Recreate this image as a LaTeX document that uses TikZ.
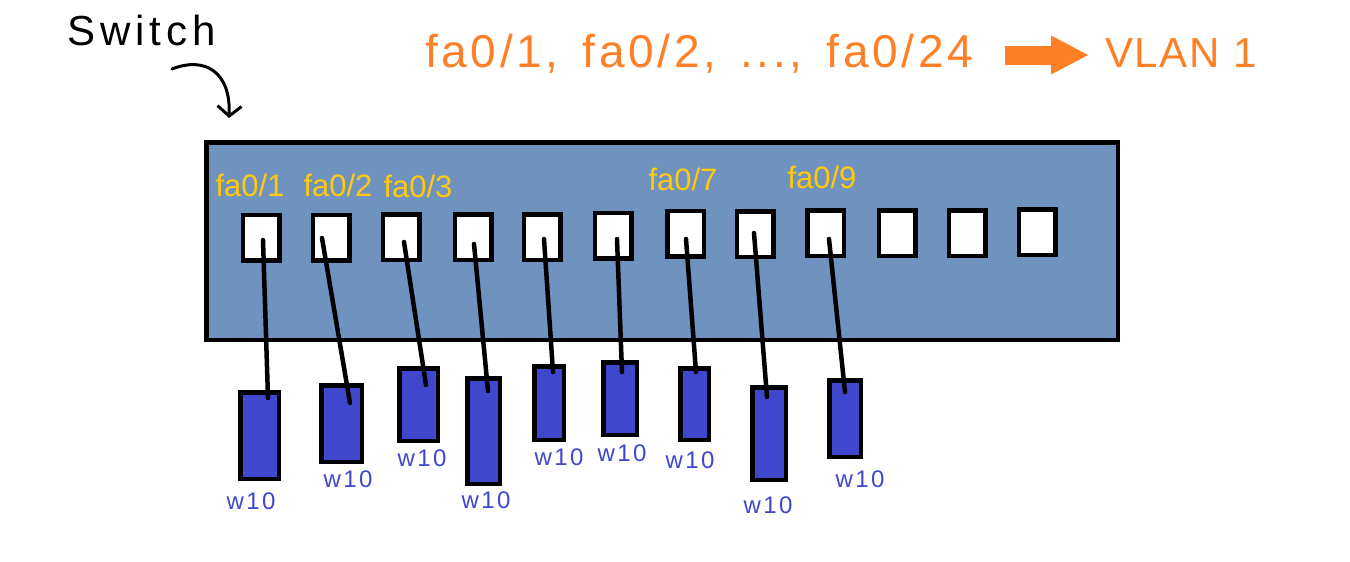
\documentclass[tikz,border=0pt]{standalone}
\usepackage{fontspec}
\setmainfont{Liberation Sans}
\usetikzlibrary{arrows.meta,calc}
\definecolor{swblue}{RGB}{112,146,190}
\definecolor{devblue}{RGB}{63,72,204}
\definecolor{vorange}{RGB}{255,127,39}
\definecolor{pgold}{RGB}{255,201,14}
\begin{document}
\begin{tikzpicture}[x=1pt,y=-1pt,
  switchbox/.style={draw=black,line width=4.5pt,fill=swblue,inner sep=0pt,minimum width=911.5pt,minimum height=197.5pt},
  port/.style={draw=black,line width=4.5pt,fill=white,inner sep=0pt,minimum width=36.5pt,minimum height=45.5pt},
  device/.style={draw=black,line width=4.5pt,fill=devblue,inner sep=0pt},
  cable/.style={line width=4.5pt,line cap=round},
  portlabel/.style={text=pgold,font=\fontsize{31}{36}\selectfont,anchor=base,inner sep=0pt},
  devlabel/.style={text=devblue,font=\fontsize{24}{28}\selectfont\addfontfeature{LetterSpace=10},inner sep=0pt},
  toptext/.style={text=vorange,anchor=base west,inner sep=0pt},
  bigarrow/.style={vorange,line width=19pt,-{Triangle[length=38pt,width=36pt]}},
  pointer/.style={line width=3pt,line cap=round,-{Straight Barb[length=10pt,width=24pt]}}
]
\useasboundingbox[fill=white] (0,0) rectangle (1350,562);

% title and legend
\node[anchor=base west,inner sep=0pt,font=\fontsize{42}{48}\selectfont\addfontfeature{LetterSpace=12}] (title) at (67,45) {Switch};
\coordinate (ptrA) at (172,69);
\coordinate (ptrB) at (229,118);
\draw[pointer] (ptrA) .. controls (205,56) and (231,72) .. (ptrB);

\node[toptext,font=\fontsize{46}{52}\selectfont\addfontfeature{LetterSpace=8}] (ports) at (425,67) {fa0/1,\, fa0/2,\, ...,\, fa0/24};
\node[toptext,font=\fontsize{42}{48}\selectfont\addfontfeature{LetterSpace=4}] (vlan) at (1105,67) {VLAN 1};
\coordinate (arrA) at (1005,55);
\coordinate (arrB) at (1089,55);
\draw[bigarrow] (arrA) -- (arrB);

% switch
\node[switchbox] (sw) at (662,241) {};

% ports
\node[port] (p1) at (261,237.5) {};
\node[port] (p2) at (331,237.5) {};
\node[port] (p3) at (401,237) {};
\node[port] (p4) at (473,237) {};
\node[port] (p5) at (542,237) {};
\node[port] (p6) at (613,235.5) {};
\node[port] (p7) at (685.5,233.5) {};
\node[port] (p8) at (755,234) {};
\node[port] (p9) at (825.5,233) {};
\node[port] (p10) at (897,233) {};
\node[port] (p11) at (967,233) {};
\node[port] (p12) at (1037,232) {};

% port labels
\node[portlabel] (l1) at (250,196) {fa0/1};
\node[portlabel] (l2) at (338,196) {fa0/2};
\node[portlabel] (l3) at (418,197) {fa0/3};
\node[portlabel] (l7) at (683,190) {fa0/7};
\node[portlabel] (l9) at (822,188) {fa0/9};

% devices
\node[device,minimum width=38.5pt,minimum height=86.5pt] (d1) at (259.5,435.5) {};
\node[device,minimum width=40.5pt,minimum height=76.5pt] (d2) at (341.5,423.5) {};
\node[device,minimum width=38.5pt,minimum height=72.5pt] (d3) at (418.5,404.5) {};
\node[device,minimum width=32.5pt,minimum height=105.5pt] (d4) at (483.5,431) {};
\node[device,minimum width=29.5pt,minimum height=73.5pt] (d5) at (549,403) {};
\node[device,minimum width=33.5pt,minimum height=72.5pt] (d6) at (620,398.5) {};
\node[device,minimum width=28.5pt,minimum height=71.5pt] (d7) at (694.5,404) {};
\node[device,minimum width=33.5pt,minimum height=92.5pt] (d8) at (769,433.5) {};
\node[device,minimum width=31.5pt,minimum height=76.5pt] (d9) at (845,418.5) {};

% device labels
\node[devlabel] (w1) at (251,501) {w10};
\node[devlabel] (w2) at (348,479) {w10};
\node[devlabel] (w3) at (422,458) {w10};
\node[devlabel] (w4) at (486,500) {w10};
\node[devlabel] (w5) at (559,457) {w10};
\node[devlabel] (w6) at (622,453) {w10};
\node[devlabel] (w7) at (690,460) {w10};
\node[devlabel] (w8) at (768,505) {w10};
\node[devlabel] (w9) at (860,479) {w10};

% cables
\draw[cable] ($(p1.center)+(2,2.5)$) -- ($(d1.north)+(8.5,8)$);
\draw[cable] ($(p2.center)+(-9,0.5)$) -- ($(d2.north)+(8.5,20)$);
\draw[cable] ($(p3.center)+(3,5)$) -- ($(d3.north)+(7.5,19)$);
\draw[cable] ($(p4.center)+(1,7)$) -- ($(d4.north)+(4.5,15)$);
\draw[cable] ($(p5.center)+(2,2)$) -- ($(d5.north)+(4,8)$);
\draw[cable] ($(p6.center)+(4,3.5)$) -- ($(d6.north)+(2,12)$);
\draw[cable] ($(p7.center)+(0.5,5.5)$) -- ($(d7.north)+(1.5,6)$);
\draw[cable] ($(p8.center)+(-1,-1)$) -- ($(d8.north)+(-2,12)$);
\draw[cable] ($(p9.center)+(3.5,6)$) -- ($(d9.north)+(0,14)$);
\end{tikzpicture}
\end{document}
